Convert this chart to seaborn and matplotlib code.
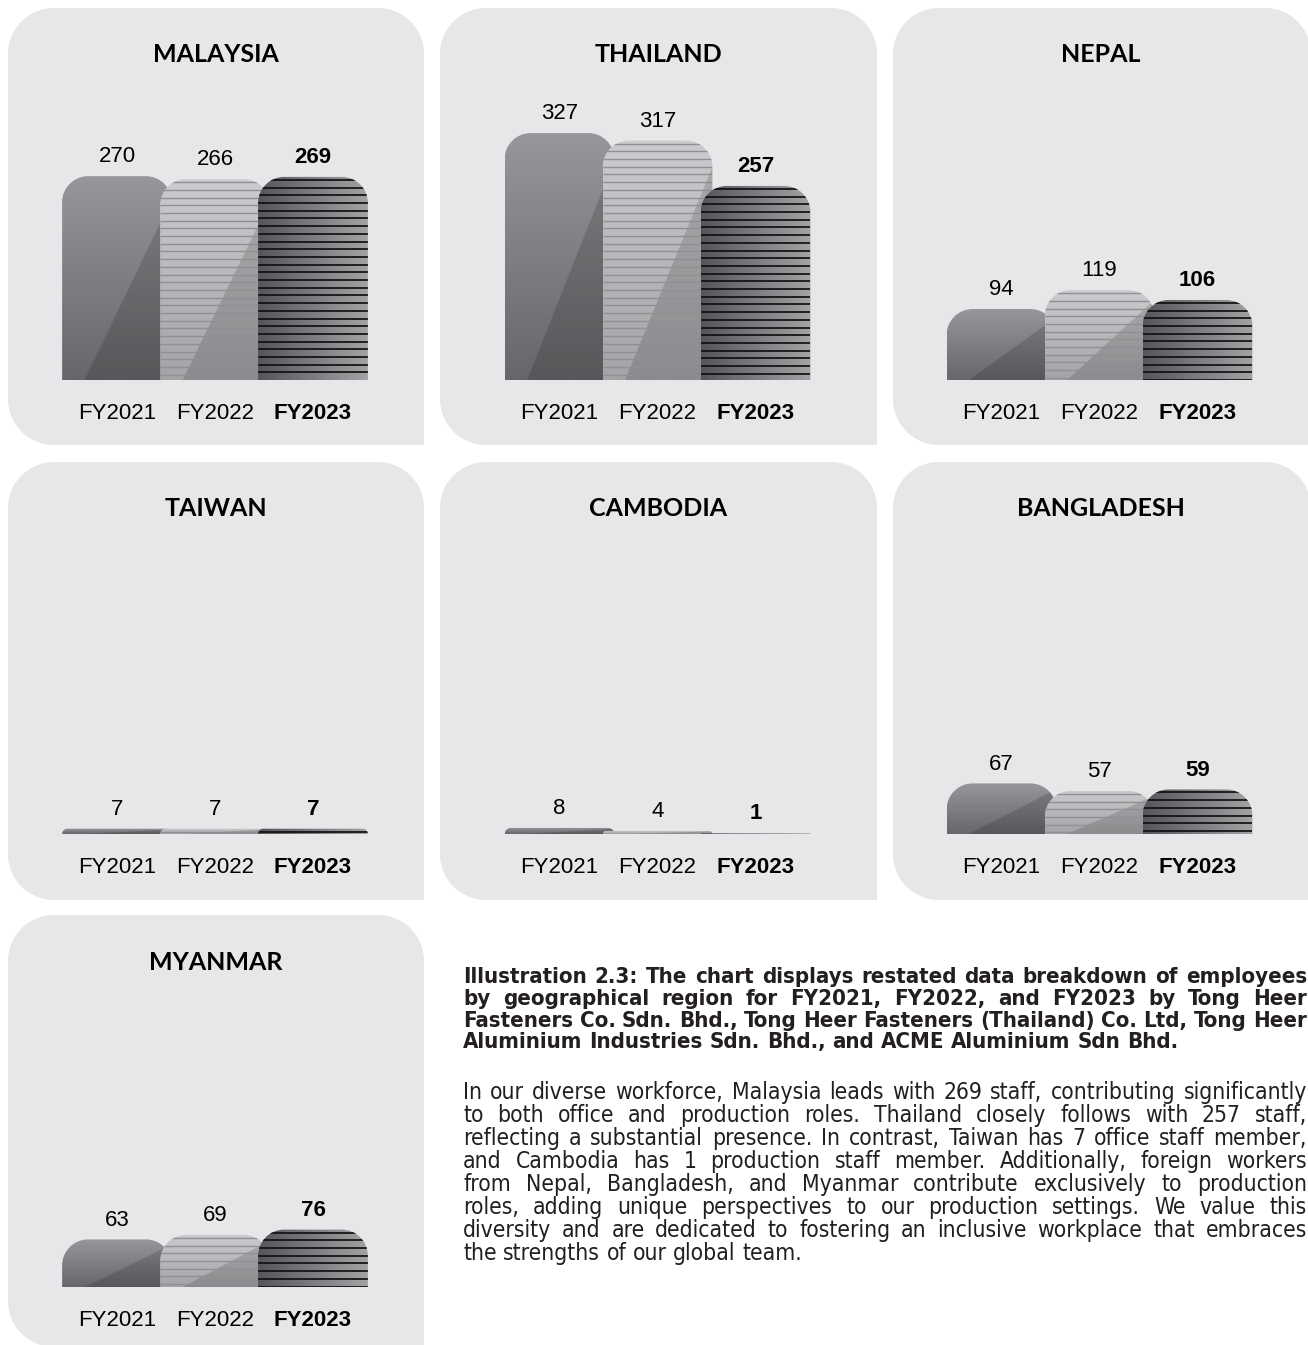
import numpy as np
import pandas as pd
import matplotlib
matplotlib.use("Agg")
import matplotlib.pyplot as plt
import seaborn as sns
from matplotlib.path import Path
from matplotlib.patches import PathPatch, Polygon
from matplotlib import font_manager
from matplotlib.font_manager import FontProperties

# ---------------- data ----------------
countries = ["MALAYSIA", "THAILAND", "NEPAL", "TAIWAN", "CAMBODIA", "BANGLADESH", "MYANMAR"]
years = ["FY2021", "FY2022", "FY2023"]
fy2021 = [270, 327, 94, 7, 8, 67, 63]
fy2022 = [266, 317, 119, 7, 4, 57, 69]
fy2023 = [269, 257, 106, 7, 1, 59, 76]

heading_lines = [
    "Illustration 2.3: The chart displays restated data breakdown of employees",
    "by geographical region for FY2021, FY2022, and FY2023 by Tong Heer",
    "Fasteners Co. Sdn. Bhd., Tong Heer Fasteners (Thailand) Co. Ltd, Tong Heer",
    "Aluminium Industries Sdn. Bhd., and ACME Aluminium Sdn Bhd.",
]
body_lines = [
    "In our diverse workforce, Malaysia leads with 269 staff, contributing significantly",
    "to both office and production roles. Thailand closely follows with 257 staff,",
    "reflecting a substantial presence. In contrast, Taiwan has 7 office staff member,",
    "and Cambodia has 1 production staff member. Additionally, foreign workers",
    "from Nepal, Bangladesh, and Myanmar contribute exclusively to production",
    "roles, adding unique perspectives to our production settings. We value this",
    "diversity and are dedicated to fostering an inclusive workplace that embraces",
    "the strengths of our global team.",
]

# ---------------- layout ----------------
W, H = 1308, 1345
PANEL = "#e6e7e8"
TXT = "#231f20"
sns.set_theme(style="white")
plt.rcParams["font.family"] = ["Liberation Sans", "DejaVu Sans"]

fig = plt.figure(figsize=(W / 100, H / 100), dpi=100)
bg = fig.add_axes([0, 0, 1, 1])
bg.set_xlim(0, W)
bg.set_ylim(H, 0)
bg.axis("off")

cols = [(8, 424), (440, 877), (893, 1308)]
rows = [(8, 445), (462, 900), (915, 1347)]

M, L, C, CL = Path.MOVETO, Path.LINETO, Path.CURVE4, Path.CLOSEPOLY
K = 0.5523


def panel_path(l, t, r, b, rad=46):
    verts = [(l, t + rad),
             (l, t + rad * (1 - K)), (l + rad * (1 - K), t), (l + rad, t),
             (r - rad, t),
             (r - rad * (1 - K), t), (r, t + rad * (1 - K)), (r, t + rad),
             (r, b),
             (l + rad, b),
             (l + rad * (1 - K), b), (l, b - rad * (1 - K)), (l, b - rad),
             (l, t + rad)]
    codes = [M, C, C, C, L, C, C, C, L, L, C, C, C, CL]
    return Path(verts, codes)


PX_X = 98.0    # pixels per category step
PX_Y = 0.755   # pixels per employee
YMAX = 340


def rounded_top(x0, w, h, rpx=26):
    hp, wp = h * PX_Y, w * PX_X
    r = min(rpx, hp, wp / 2)
    rx, ry = r / PX_X, r / PX_Y
    x1 = x0 + w
    verts = [(x0, 0), (x0, h - ry),
             (x0, h - ry + ry * K), (x0 + rx - rx * K, h), (x0 + rx, h),
             (x1 - rx, h),
             (x1 - rx + rx * K, h), (x1, h - ry + ry * K), (x1, h - ry),
             (x1, 0), (x0, 0)]
    codes = [M, L, C, C, C, L, C, C, C, L, CL]
    return Path(verts, codes)


def hexrgb(h):
    h = h.lstrip("#")
    return np.array([int(h[i:i + 2], 16) / 255 for i in (0, 2, 4)])


def vgrad(bottom, top, n=128):
    t = np.linspace(0, 1, n)[:, None]
    c = hexrgb(bottom) * (1 - t) + hexrgb(top) * t
    return np.repeat(c[:, None, :], 2, axis=1)


def hgrad(left, right, n=128):
    t = np.linspace(0, 1, n)[:, None]
    c = hexrgb(left) * (1 - t) + hexrgb(right) * t
    return np.repeat(c[None, :, :], 2, axis=0)


def draw_bar(ax, j, x0, w, h):
    if h <= 0:
        return
    z = 2 + j
    patch = PathPatch(rounded_top(x0, w, h), facecolor="none", edgecolor="none", zorder=z)
    ax.add_patch(patch)
    if j == 0:
        img = vgrad("#66676a", "#96979a")
    elif j == 1:
        img = vgrad("#a3a4a6", "#cbcccd")
    else:
        img = hgrad("#55565a", "#a2a3a5")
    im = ax.imshow(img, extent=[x0, x0 + w, 0, h], origin="lower", aspect="auto",
                   interpolation="bilinear", zorder=z + 0.1)
    im.set_clip_path(patch)
    if j < 2:
        p0 = np.array([x0 + 0.23, 0.0])
        p1 = np.array([x0 + 0.97, 0.74 * h])
        d = p1 - p0
        p2 = p0 + 3 * d
        poly = Polygon([p0, p2, (x0 + w + 1, p2[1]), (x0 + w + 1, 0)], closed=True,
                       facecolor="black", alpha=0.15, edgecolor="none", zorder=z + 0.2)
        ax.add_patch(poly)
        poly.set_clip_path(patch)
    if j > 0:
        hp = h * PX_Y
        offs = np.arange(3.0, hp, 7.7)
        ys = h - offs / PX_Y
        col = "#8f9093" if j == 1 else "#111111"
        lw = 1.0 if j == 1 else 1.25
        lc = ax.hlines(ys, x0, x0 + w, colors=col, linewidth=lw, zorder=z + 0.3)
        lc.set_clip_path(patch)


for i, name in enumerate(countries):
    r_i, c_i = divmod(i, 3)
    l, rr = cols[c_i]
    t, b = rows[r_i]
    right_draw = rr + 3 if c_i == 2 else rr
    bg.add_patch(PathPatch(panel_path(l, t, right_draw, b), facecolor=PANEL, edgecolor="none"))
    pc = (l + rr) / 2
    bg.text(pc, t + 54.5, name, ha="center", va="baseline", fontsize=18,
            fontweight="bold", family=["Lato", "DejaVu Sans"], color="black")

    center = pc - 1
    base = t + 372
    ax_left = center - 1.6 * PX_X
    ax = fig.add_axes([ax_left / W, (H - base) / H, 3.2 * PX_X / W, YMAX * PX_Y / H])
    vals = [fy2021[i], fy2022[i], fy2023[i]]
    df = pd.DataFrame({"year": years, "n": vals})
    sns.barplot(data=df, x="year", y="n", ax=ax, width=1.12, color="#888888", errorbar=None)
    ax.set_xlim(-0.6, 2.6)
    ax.set_ylim(0, YMAX)
    bars = list(ax.patches)
    for j, p in enumerate(bars):
        x0, w, h = p.get_x(), p.get_width(), p.get_height()
        p.set_visible(False)
        draw_bar(ax, j, x0, w, h)
        ax.annotate(f"{vals[j]}", (x0 + w / 2, h), xytext=(0, 10), textcoords="offset points",
                    ha="center", va="baseline", fontsize=16,
                    fontweight="bold" if j == 2 else "normal", color="black",
                    zorder=20, annotation_clip=False)
    ax.set_xlim(-0.6, 2.6)
    ax.set_ylim(0, YMAX)
    ax.set_xticks([0, 1, 2])
    ax.set_xticklabels(years)
    for k, lab in enumerate(ax.get_xticklabels()):
        lab.set_fontweight("bold" if k == 2 else "normal")
        lab.set_fontsize(16)
        lab.set_color("black")
    ax.tick_params(axis="x", length=0, pad=16.5)
    ax.set_yticks([])
    ax.set_xlabel("")
    ax.set_ylabel("")
    for s in ax.spines.values():
        s.set_visible(False)
    ax.patch.set_alpha(0)

# ---------------- description text ----------------
names = {f.name for f in font_manager.fontManager.ttflist}


def get_fp(bold, size):
    if "Liberation Sans Narrow" in names:
        return FontProperties(family="Liberation Sans Narrow",
                              weight="bold" if bold else "normal", size=size)
    for f in font_manager.fontManager.ttflist:
        fn = f.fname.lower()
        if "dejavusanscondensed" in fn.replace("-", "").replace("_", ""):
            isb = "bold" in fn
            iso = "oblique" in fn
            if isb == bold and not iso:
                return FontProperties(fname=f.fname, size=size)
    return FontProperties(family="DejaVu Sans", weight="bold" if bold else "normal", size=size)


renderer = fig.canvas.get_renderer()


def text_width(s, fp):
    tt = bg.text(0, 0, s, fontproperties=fp)
    w = tt.get_window_extent(renderer).width
    tt.remove()
    return w


X0, X1 = 463, 1307


def fit_size(line, bold, target):
    w10 = text_width(line, get_fp(bold, 10))
    return 10 * target / w10


def justify(line, y, fp, last=False):
    words = line.split(" ")
    texts = [bg.text(0, y, wd, fontproperties=fp, va="baseline", ha="left", color=TXT)
             for wd in words]
    widths = [tt.get_window_extent(renderer).width for tt in texts]
    if last or len(words) == 1:
        gap = text_width("a a", fp) - text_width("aa", fp)
    else:
        gap = (X1 - X0 - sum(widths)) / (len(words) - 1)
    x = X0
    for tt, wd in zip(texts, widths):
        tt.set_x(x)
        x += wd + gap


hsize = fit_size(heading_lines[0], True, (X1 - X0) * 0.985)
bsize = fit_size(body_lines[0], False, (X1 - X0) * 0.985)
hfp = get_fp(True, hsize)
bfp = get_fp(False, bsize)

for k, line in enumerate(heading_lines):
    justify(line, 983 + k * 21.8, hfp, last=(k == len(heading_lines) - 1))
for k, line in enumerate(body_lines):
    justify(line, 1099 + k * 23.0, bfp, last=(k == len(body_lines) - 1))

fig.savefig("out.png", dpi=100, facecolor="white")
